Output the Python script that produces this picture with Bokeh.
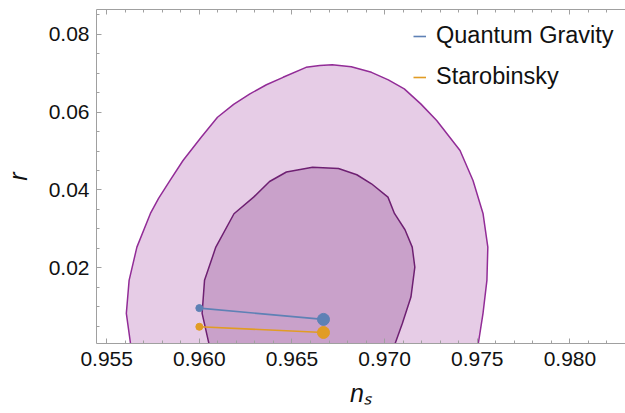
from bokeh.plotting import figure
from bokeh.models import (Range1d, LinearAxis, Legend, LegendItem,
                          SingleIntervalTicker, PrintfTickFormatter, CustomJSTickFormatter)
from bokeh.embed import file_html
from bokeh.resources import INLINE

# 2-sigma (outer) contour
outer_ns = [0.95630, 0.95606, 0.95621, 0.95663, 0.95736, 0.95780, 0.95842, 0.95912,
            0.96010, 0.96098, 0.96185, 0.96273, 0.96362, 0.96452, 0.96576, 0.96650,
            0.96717, 0.96820, 0.96929, 0.97020, 0.97106, 0.97195, 0.97281, 0.97407,
            0.97477, 0.97531, 0.97557, 0.97552, 0.97531, 0.97504]
outer_r = [0.0, 0.00826, 0.01674, 0.02529, 0.03395, 0.03780, 0.04243, 0.04756,
           0.05355, 0.05868, 0.06200, 0.06470, 0.06705, 0.06896, 0.07153, 0.07200,
           0.07222, 0.07170, 0.07024, 0.06830, 0.06598, 0.06213, 0.05784, 0.05013,
           0.04243, 0.03395, 0.02529, 0.01674, 0.00826, 0.0]

# 1-sigma (inner) contour
inner_ns = [0.96054, 0.96015, 0.96028, 0.96089, 0.96187, 0.96293, 0.96379, 0.96470,
            0.96611, 0.96751, 0.96850, 0.96929, 0.97018, 0.97053, 0.97110, 0.97149,
            0.97163, 0.97142, 0.97096, 0.97053]
inner_r = [0.0, 0.00826, 0.01674, 0.02529, 0.03387, 0.03814, 0.04217, 0.04461,
           0.04584, 0.04551, 0.04390, 0.04158, 0.03814, 0.03395, 0.02975, 0.02529,
           0.02015, 0.01245, 0.00569, 0.0]

# model predictions (N = 50 and N = 60)
qg_ns = [0.9600, 0.9667]
qg_r = [0.0096, 0.0067]
st_ns = [0.9600, 0.9667]
st_r = [0.0048, 0.00333]

series_labels = ["Quantum Gravity", "Starobinsky"]

FONT = "Liberation Sans"
BLUE = "#5e81b5"
ORANGE = "#e19c24"

p = figure(width=625, height=413, output_backend="svg", toolbar_location=None,
           x_range=Range1d(0.95445, 0.98300), y_range=Range1d(0.0005, 0.0864),
           min_border_left=87, min_border_right=0, min_border_top=9, min_border_bottom=70)
p.outline_line_color = None
p.grid.visible = False
p.background_fill_color = "white"

p.patch(outer_ns, outer_r, fill_color="#e6cce6", line_color="#922c97", line_width=1.5)
p.patch(inner_ns, inner_r, fill_color="#c9a1ca", line_color="#6e2072", line_width=1.5)

l1 = p.line(qg_ns, qg_r, line_color=BLUE, line_width=1.6)
p.scatter(qg_ns[:1], qg_r[:1], size=7, color=BLUE)
p.scatter(qg_ns[1:], qg_r[1:], size=12, color=BLUE)
l2 = p.line(st_ns, st_r, line_color=ORANGE, line_width=1.6)
p.scatter(st_ns[:1], st_r[:1], size=7, color=ORANGE)
p.scatter(st_ns[1:], st_r[1:], size=12, color=ORANGE)

def style_axis(ax):
    ax.axis_line_color = "#a0a0a0"
    ax.major_tick_line_color = "#a0a0a0"
    ax.minor_tick_line_color = "#a0a0a0"
    ax.major_tick_in = 5
    ax.major_tick_out = 0
    ax.minor_tick_in = 3
    ax.minor_tick_out = 0
    ax.major_label_text_font = FONT
    ax.major_label_text_font_size = "21px"
    ax.major_label_text_color = "#111111"

xax = p.below[0]
yax = p.left[0]
xax.ticker = SingleIntervalTicker(interval=0.005, num_minor_ticks=5)
yax.ticker = SingleIntervalTicker(interval=0.02, num_minor_ticks=4)
xax.formatter = PrintfTickFormatter(format="%.3f")
yax.formatter = PrintfTickFormatter(format="%.2f")
style_axis(xax)
style_axis(yax)
xax.major_label_standoff = 8
yax.major_label_standoff = 7

top = LinearAxis(ticker=SingleIntervalTicker(interval=0.005, num_minor_ticks=5),
                 formatter=CustomJSTickFormatter(code="return ''"))
style_axis(top)
top.major_label_standoff = 0
p.add_layout(top, "above")

yax.axis_label = "r"
yax.axis_label_text_font = FONT
yax.axis_label_text_font_style = "italic"
yax.axis_label_text_font_size = "25px"
yax.axis_label_standoff = 14
yax.axis_label_text_color = "#111111"

xax.axis_label = "n\u209b"
xax.axis_label_text_font = FONT
xax.axis_label_text_font_style = "italic"
xax.axis_label_text_font_size = "25px"
xax.axis_label_standoff = 10
xax.axis_label_text_color = "#111111"

legend = Legend(items=[LegendItem(label=series_labels[0], renderers=[l1]),
                       LegendItem(label=series_labels[1], renderers=[l2])],
                location=(317, 253))
legend.label_text_font = FONT
legend.label_text_font_size = "23.5px"
legend.label_text_color = "#111111"
legend.glyph_width = 13
legend.glyph_height = 26
legend.label_height = 26
legend.spacing = 14
legend.label_standoff = 10
legend.padding = 0
legend.margin = 0
legend.border_line_color = None
legend.background_fill_color = None
p.add_layout(legend)

open("out.html", "w").write(file_html(p, INLINE))
